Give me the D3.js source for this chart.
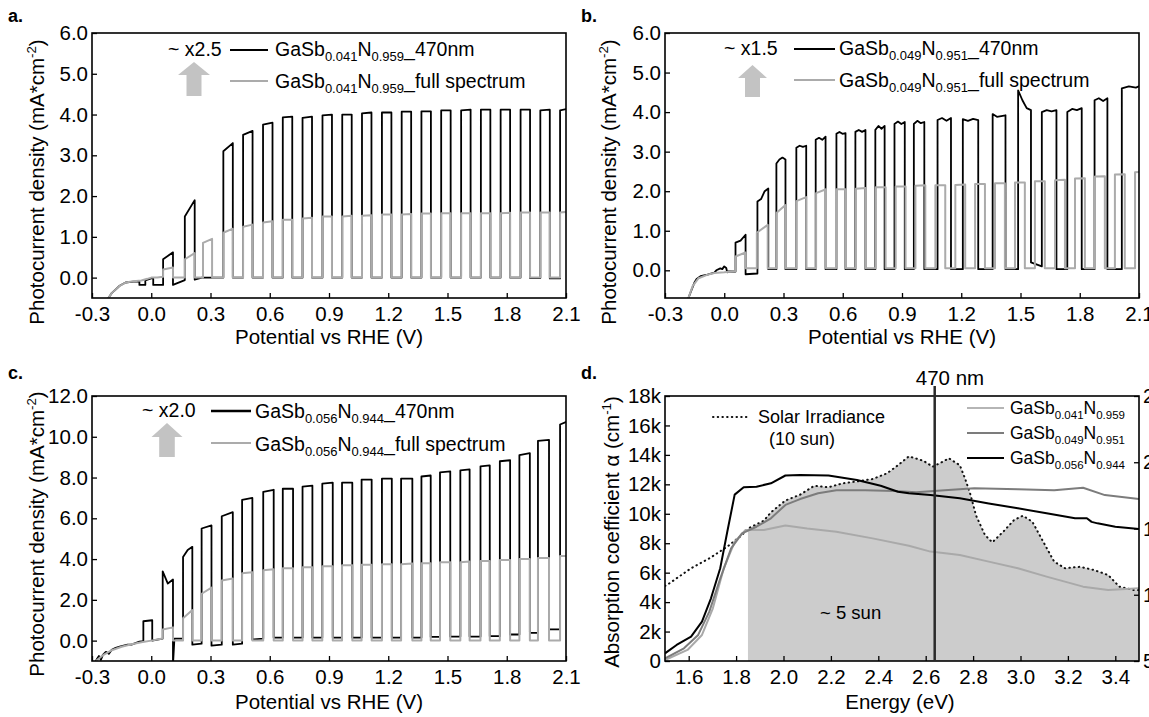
<!DOCTYPE html>
<html><head><meta charset="utf-8">
<script src="https://cdn.jsdelivr.net/npm/d3@7"></script>
<style>body{margin:0;background:#fff}text{font-family:"Liberation Sans",Arial,sans-serif;fill:#000}</style>
</head><body><script>
// ---------- DATA ----------
const potentialTicks = [-0.3,0,0.3,0.6,0.9,1.2,1.5,1.8,2.1];
const jTicksAB = [0,1,2,3,4,5,6];
const jTicksC = [0,2,4,6,8,10,12];
const energyTicks = [1.6,1.8,2.0,2.2,2.4,2.6,2.8,3.0,3.2,3.4];
const alphaTicks = [0,2000,4000,6000,8000,10000,12000,14000,16000,18000];
const irrTicks = [5,10,15,20,25];

// chopped photocurrent: lead-in [V,J] points, then pulses [on, off, [top J...], [dark J...]]
const aBlackLead = [[-0.23,-0.6],[-0.2,-0.38],[-0.16,-0.2],[-0.13,-0.12],[-0.09,-0.1],[-0.06,-0.1],[-0.06,-0.18],[-0.03,-0.18],[-0.03,-0.07],[0.0,-0.02],[0.01,-0.02],[0.01,-0.18],[0.06,-0.18]];
const aBlackPulses = [
 [0.06,0.11,[0.45,0.62],[-0.18,-0.06]],[0.17,0.22,[1.5,1.9],[-0.05,0,0,0,0]],
 [0.365,0.413,[3.1,3.3]],[0.465,0.513,[3.5,3.6]],[0.566,0.614,[3.75,3.8]],[0.666,0.714,[3.93,3.95]],
 [0.766,0.814,[3.92,3.95]],[0.867,0.915,[3.98,4.0]],[0.967,1.015,[4.0,4.0]],[1.067,1.115,[4.03,4.05]],
 [1.168,1.216,[4.05,4.05]],[1.268,1.316,[4.07,4.07]],[1.368,1.416,[4.08,4.08]],[1.468,1.516,[4.1,4.1]],
 [1.569,1.617,[4.1,4.12]],[1.669,1.717,[4.12,4.12]],[1.769,1.817,[4.12,4.12]],[1.870,1.918,[4.12,4.12],[-0.01,-0.01]],
 [1.970,2.018,[4.1,4.12],[-0.02,-0.02]],[2.070,2.118,[4.1,4.15]]];
const aGreyLead = [[-0.23,-0.6],[-0.2,-0.38],[-0.16,-0.2],[-0.13,-0.12],[-0.09,-0.09],[-0.05,-0.07],[-0.02,-0.03],[0.0,0.0],[0.03,0.0],[0.06,0.02]];
const aGreyPulses = [
 [0.06,0.11,[0.2,0.25]],[0.17,0.22,[0.45,0.6]],[0.262,0.308,[0.85,0.95]],
 [0.365,0.413,[1.1,1.2]],[0.465,0.513,[1.25,1.3]],[0.566,0.614,[1.35,1.38]],[0.666,0.714,[1.42,1.42]],
 [0.766,0.814,[1.45,1.47]],[0.867,0.915,[1.5,1.5]],[0.967,1.015,[1.5,1.52]],[1.067,1.115,[1.52,1.53]],
 [1.168,1.216,[1.55,1.55]],[1.268,1.316,[1.55,1.56]],[1.368,1.416,[1.57,1.57]],[1.468,1.516,[1.58,1.58]],
 [1.569,1.617,[1.58,1.58]],[1.669,1.717,[1.58,1.58]],[1.769,1.817,[1.58,1.59]],[1.870,1.918,[1.6,1.6]],
 [1.970,2.018,[1.6,1.6]],[2.070,2.118,[1.6,1.62]]];

const bBlackLead = [[-0.185,-0.75],[-0.17,-0.55],[-0.15,-0.3],[-0.14,-0.22],[-0.12,-0.15],[-0.085,-0.11],[-0.05,-0.06],[-0.04,0.0],[-0.02,0.05],[-0.01,0.03],[0.0,0.1],[0.01,0.06],[0.015,-0.05],[0.02,-0.03],[0.057,-0.03]];
const bBlackPulses = [
 [0.057,0.108,[0.7,0.75,0.9],[-0.1,-0.08]],[0.168,0.223,[1.74,1.8,2.0,2.07]],[0.264,0.310,[2.7,2.8,2.85,2.8]],
 [0.365,0.415,[3.1,3.15,3.12,3.15]],[0.463,0.513,[3.3,3.35,3.3,3.38]],[0.568,0.614,[3.45,3.5,3.45,3.47]],[0.664,0.715,[3.5,3.55,3.5,3.55]],
 [0.765,0.812,[3.55,3.65,3.58,3.65]],[0.862,0.914,[3.7,3.76,3.7,3.75]],[0.960,1.013,[3.7,3.78,3.72,3.75]],[1.080,1.148,[3.8,3.85,3.78,3.85]],
 [1.208,1.286,[3.82,3.78,3.83,3.8]],[1.359,1.424,[3.95,3.88,3.9,3.92]],[1.488,1.553,[4.55,4.3,4.1,4.05],[0.2,0.1]],
 [1.608,1.682,[4.0,4.05,4.02,4.05]],[1.737,1.810,[4.0,4.08,4.05,4.1]],[1.875,1.940,[4.3,4.35,4.28,4.35]],[2.013,2.12,[4.6,4.65,4.62,4.7]]];
const bGreyLead = [[-0.185,-0.75],[-0.16,-0.4],[-0.13,-0.2],[-0.09,-0.12],[-0.05,-0.07],[0.0,-0.05],[0.057,-0.02]];
const bGreyPulses = [
 [0.057,0.108,[0.35,0.45]],[0.165,0.22,[0.95,1.15]],[0.264,0.31,[1.45,1.65]],
 [0.365,0.415,[1.75,1.85]],[0.465,0.515,[1.95,2.05]],[0.566,0.616,[2.05,2.05]],[0.666,0.716,[2.06,2.08]],
 [0.767,0.817,[2.1,2.1]],[0.868,0.918,[2.12,2.12]],[0.968,1.018,[2.14,2.15]],[1.069,1.119,[2.15,2.15]],
 [1.170,1.220,[2.16,2.17]],[1.270,1.320,[2.18,2.18]],[1.371,1.421,[2.2,2.2]],[1.472,1.522,[2.22,2.22]],
 [1.573,1.623,[2.25,2.25]],[1.675,1.725,[2.28,2.29]],[1.776,1.826,[2.32,2.33]],[1.877,1.927,[2.37,2.38]],
 [1.978,2.028,[2.42,2.43]],[2.080,2.13,[2.48,2.5]]];

const cBlackLead = [[-0.285,-1.1],[-0.275,-0.9],[-0.265,-0.75],[-0.255,-0.95],[-0.245,-0.7],[-0.23,-0.55],[-0.215,-0.65],[-0.2,-0.45],[-0.18,-0.35],[-0.16,-0.3],[-0.14,-0.25],[-0.12,-0.2],[-0.1,-0.2],[-0.08,-0.12],[-0.06,-0.05],[-0.04,-0.02]];
const cBlackPulses = [
 [-0.04,0.005,[0.95,1.0],[0.0,0.1]],[0.058,0.11,[3.4,2.8,3.0],[-1.2,0.1,0.1,0.1,0.1,0.1,0.1,0.1]],
 [0.161,0.208,[4.1,4.45,4.6],[-0.2,-0.15]],[0.255,0.305,[5.5,5.65],[-0.25,-0.2]],[0.357,0.413,[6.1,6.3],[-0.2,-0.15]],
 [0.46,0.512,[6.9,7.0],[0.05,0.1]],[0.567,0.62,[7.3,7.4]],[0.666,0.718,[7.45,7.45]],[0.766,0.816,[7.55,7.6]],
 [0.866,0.919,[7.7,7.75]],[0.966,1.018,[7.75,7.75]],[1.065,1.116,[7.9,7.9]],[1.168,1.218,[7.95,7.95]],
 [1.265,1.322,[7.95,7.95]],[1.368,1.415,[8.05,8.1],[0.18,0.18]],[1.462,1.514,[8.25,8.3],[0.2,0.2]],
 [1.565,1.612,[8.35,8.4],[0.2,0.2]],[1.667,1.714,[8.55,8.6],[0.22,0.22]],[1.765,1.817,[8.8,8.85],[0.3,0.3]],
 [1.864,1.917,[9.1,9.2],[0.38,0.38]],[1.958,2.014,[9.8,9.85],[0.55,0.55]],[2.07,2.12,[10.6,10.8]]];
const cGreyLead = [[-0.28,-1.0],[-0.25,-0.75],[-0.2,-0.47],[-0.15,-0.3],[-0.1,-0.18],[-0.05,-0.08],[0.0,0.0],[0.03,0.05],[0.058,0.1]];
const cGreyPulses = [
 [0.058,0.11,[0.55,0.65]],[0.161,0.208,[1.1,1.5]],[0.255,0.305,[2.3,2.6]],[0.357,0.413,[2.95,3.05]],
 [0.46,0.512,[3.3,3.35]],[0.567,0.62,[3.45,3.5]],[0.666,0.718,[3.55,3.55]],[0.766,0.816,[3.6,3.6]],
 [0.866,0.919,[3.65,3.65]],[0.966,1.018,[3.7,3.7]],[1.065,1.116,[3.72,3.72]],[1.168,1.218,[3.75,3.75]],
 [1.265,1.322,[3.75,3.78]],[1.368,1.415,[3.8,3.8]],[1.462,1.514,[3.85,3.85]],[1.565,1.612,[3.85,3.88]],
 [1.667,1.714,[3.9,3.9]],[1.765,1.817,[3.95,3.95]],[1.864,1.917,[4.0,4.0]],[1.958,2.014,[4.05,4.05]],
 [2.07,2.12,[4.15,4.15]]];

// panel d: [energy eV, value]
const solarIrr = [[1.5,5.1],[1.518,5.27],[1.61,6.3],[1.687,6.97],[1.763,7.77],[1.825,8.56],[1.85,9.0],[1.917,9.53],[1.947,10.1],[2.008,10.9],[2.07,11.3],[2.13,11.9],[2.19,11.8],[2.25,12.07],[2.31,12.2],[2.376,12.36],[2.437,12.75],[2.483,13.3],[2.529,13.9],[2.59,13.6],[2.63,13.2],[2.667,13.5],[2.698,13.77],[2.744,13.3],[2.766,12.4],[2.789,11.3],[2.812,9.9],[2.85,8.56],[2.881,8.06],[2.927,8.78],[2.973,9.58],[3.01,9.87],[3.05,9.46],[3.096,8.1],[3.142,6.75],[3.188,6.3],[3.25,6.4],[3.31,6.18],[3.37,5.84],[3.417,5.05],[3.478,4.82],[3.5,4.82]];
const alpha056 = [[1.5,0.52],[1.549,1.09],[1.61,1.65],[1.656,2.67],[1.694,4.26],[1.733,6.3],[1.763,8.8],[1.794,11.3],[1.832,11.8],[1.886,11.84],[1.947,12.07],[2.008,12.6],[2.07,12.63],[2.19,12.6],[2.31,12.3],[2.41,11.9],[2.483,11.5],[2.529,11.39],[2.62,11.27],[2.744,11.05],[2.866,10.7],[2.989,10.37],[3.11,10.03],[3.23,9.69],[3.28,9.7],[3.3,9.45],[3.325,9.35],[3.4,9.12],[3.5,8.96]];
const alpha049 = [[1.5,0.18],[1.58,0.86],[1.64,1.77],[1.687,3.35],[1.733,5.6],[1.779,7.65],[1.825,8.67],[1.886,9.12],[1.947,9.69],[2.008,10.6],[2.07,11.0],[2.146,11.39],[2.223,11.6],[2.345,11.6],[2.468,11.55],[2.56,11.46],[2.68,11.6],[2.805,11.73],[2.989,11.66],[3.142,11.6],[3.264,11.77],[3.356,11.27],[3.5,11.0]];
const alpha041 = [[1.5,0.07],[1.595,0.75],[1.656,1.77],[1.702,3.58],[1.748,6.3],[1.794,8.1],[1.84,8.9],[1.917,8.9],[2.008,9.2],[2.1,9.0],[2.223,8.78],[2.376,8.33],[2.529,7.83],[2.62,7.43],[2.744,7.2],[2.866,6.75],[2.989,6.3],[3.11,5.73],[3.264,5.05],[3.37,4.82],[3.5,4.94]];
const shadeStart = 1.85;   // eV, left edge of "~5 sun" shaded area
const line470 = 2.638;     // eV of 470 nm

// ---------- DRAW ----------
const svg = d3.select("body").append("svg").attr("width",1149).attr("height",717);
const FONT = 20.5;
let clipN = 0;

function makePanel(o){
  const x = d3.scaleLinear().domain(o.xd).range([o.x0,o.x1]);
  const y = d3.scaleLinear().domain(o.yd).range([o.y1,o.y0]);
  const id = "clip"+(clipN++);
  svg.append("clipPath").attr("id",id).append("rect")
     .attr("x",o.x0).attr("y",o.y0).attr("width",o.x1-o.x0).attr("height",o.y1-o.y0);
  const plot = svg.append("g").attr("clip-path",`url(#${id})`);
  const gx = svg.append("g").attr("transform",`translate(0,${o.y1})`)
    .call(d3.axisBottom(x).tickValues(o.xt).tickFormat(d3.format(".1f")).tickSize(-5).tickPadding(8));
  const gy = svg.append("g").attr("transform",`translate(${o.x0},0)`)
    .call(d3.axisLeft(y).tickValues(o.yt).tickFormat(o.yf).tickSize(-5).tickPadding(4));
  [gx,gy].forEach(g=>{
    g.select(".domain").remove();
    g.selectAll(".tick line").attr("stroke","#000").attr("stroke-width",1.3);
    g.selectAll(".tick text").attr("font-size",FONT).attr("font-family","Liberation Sans, Arial, sans-serif").attr("fill","#000");
  });
  gx.selectAll(".tick text").text(d=>d3.format(".1f")(d).replace("−","-"));
  return {x,y,plot,o};
}
function frame(p){
  const o=p.o;
  svg.append("rect").attr("x",o.x0).attr("y",o.y0).attr("width",o.x1-o.x0).attr("height",o.y1-o.y0)
    .attr("fill","none").attr("stroke","#000").attr("stroke-width",1.6);
}
function chopPoints(lead, pulses, xmax, defDark){
  const pts = lead.map(d=>d.slice());
  pulses.forEach((p,i)=>{
    const [on,off,top] = p; const dark = p[3] || defDark;
    pts.push([on, pts[pts.length-1][1]]);
    top.forEach((t,k)=>pts.push([on+(off-on)*k/(top.length-1), t]));
    const next = i<pulses.length-1 ? pulses[i+1][0] : xmax;
    if(dark.length===1){pts.push([off,dark[0]],[next,dark[0]]);}
    else dark.forEach((d,k)=>pts.push([off+(next-off)*k/(dark.length-1), d]));
  });
  return pts;
}
function drawLine(p, pts, color, w, dash){
  const line = d3.line().x(d=>p.x(d[0])).y(d=>p.y(d[1]));
  const path = p.plot.append("path").attr("d",line(pts)).attr("fill","none")
    .attr("stroke",color).attr("stroke-width",w).attr("stroke-linejoin","round");
  if(dash) path.attr("stroke-dasharray",dash).attr("stroke-linecap","round");
  return path;
}
function formula(g, x, y, parts, fs, sfs){
  const t = g.append("text").attr("x",x).attr("y",y).attr("font-size",fs);
  let sub=false;
  parts.forEach(([s,isSub])=>{
    const ts = t.append("tspan").text(s);
    if(isSub && !sub){ts.attr("dy",fs*0.28).attr("font-size",sfs); sub=true;}
    else if(isSub){ts.attr("font-size",sfs);}
    else if(!isSub && sub){ts.attr("dy",-fs*0.28); sub=false;}
  });
  return t;
}
function arrow(cx, tipY, headY, botY, hw, sw){
  svg.append("path").attr("fill","#c3c3c3")
    .attr("d",`M${cx},${tipY}L${cx+hw},${headY}L${cx+sw},${headY}L${cx+sw},${botY}L${cx-sw},${botY}L${cx-sw},${headY}L${cx-hw},${headY}Z`);
}
function yTitle(x, y, parts, fs){
  const g = svg.append("g").attr("transform",`translate(${x},${y}) rotate(-90)`);
  const t = g.append("text").attr("text-anchor","middle").attr("font-size",fs).attr("dy","0.35em");
  parts.forEach(([s,sup])=>{
    const ts=t.append("tspan").text(s);
    if(sup===1) ts.attr("font-size",fs*0.65).attr("dy",-fs*0.38);
    if(sup===2) ts.attr("dy",fs*0.38);
  });
}
function xTitle(x,y,s){ svg.append("text").attr("x",x).attr("y",y).attr("text-anchor","middle").attr("font-size",20.5).text(s); }
function label(x,y,s){ svg.append("text").attr("x",x).attr("y",y).attr("font-size",18).attr("font-weight","bold").text(s); }

const fmt1 = d3.format(".1f");
const jTitle = [["Photocurrent density (mA*cm",0],["-2",1],[")",2]];

// ---- panel a ----
const pa = makePanel({x0:92,x1:566,y0:33,y1:298,xd:[-0.3,2.1],yd:[-0.5,6],xt:potentialTicks,yt:jTicksAB,yf:fmt1});
drawLine(pa, chopPoints(aBlackLead,aBlackPulses,2.12,[0,0]), "#000", 1.8);
drawLine(pa, chopPoints(aGreyLead,aGreyPulses,2.12,[0,0]), "#ababab", 2);
frame(pa);
label(8,22,"a.");
yTitle(37,182,jTitle,20.5);
xTitle(329,344,"Potential vs RHE (V)");
svg.append("text").attr("x",168).attr("y",56).attr("font-size",19.5).text("~ x2.5");
svg.append("line").attr("x1",230).attr("x2",268).attr("y1",50).attr("y2",50).attr("stroke","#000").attr("stroke-width",2);
svg.append("line").attr("x1",230).attr("x2",268).attr("y1",81).attr("y2",81).attr("stroke","#ababab").attr("stroke-width",2);
formula(svg,275,56,[["GaSb",0],["0.041",1],["N",0],["0.959",1],["_470nm",0]],19.5,13);
formula(svg,275,88,[["GaSb",0],["0.041",1],["N",0],["0.959",1],["_full spectrum",0]],19.5,13);
arrow(194,62,75,96,16,7.5);

// ---- panel b ----
const pb = makePanel({x0:665,x1:1139,y0:33,y1:298,xd:[-0.3,2.1],yd:[-0.7,6],xt:potentialTicks,yt:jTicksAB,yf:fmt1});
drawLine(pb, chopPoints(bBlackLead,bBlackPulses,2.12,[0.03,0.03]), "#000", 1.8);
drawLine(pb, chopPoints(bGreyLead,bGreyPulses,2.13,[0.05,0.05]), "#ababab", 2);
frame(pb);
label(581,22,"b.");
yTitle(609,182,jTitle,20.5);
xTitle(902,344,"Potential vs RHE (V)");
svg.append("text").attr("x",724).attr("y",55).attr("font-size",19.5).text("~ x1.5");
svg.append("line").attr("x1",794).attr("x2",835).attr("y1",49).attr("y2",49).attr("stroke","#000").attr("stroke-width",2);
svg.append("line").attr("x1",794).attr("x2",835).attr("y1",80).attr("y2",80).attr("stroke","#ababab").attr("stroke-width",2);
formula(svg,839,55,[["GaSb",0],["0.049",1],["N",0],["0.951",1],["_470nm",0]],19.5,13);
formula(svg,839,87,[["GaSb",0],["0.049",1],["N",0],["0.951",1],["_full spectrum",0]],19.5,13);
arrow(752.5,65,78,97,14.5,7.5);

// ---- panel c ----
const pc = makePanel({x0:92,x1:566,y0:396,y1:661,xd:[-0.3,2.1],yd:[-1,12],xt:potentialTicks,yt:jTicksC,yf:fmt1});
drawLine(pc, chopPoints(cBlackLead,cBlackPulses,2.12,[0.15,0.15]), "#000", 1.8);
drawLine(pc, chopPoints(cGreyLead,cGreyPulses,2.12,[0,0]), "#ababab", 2);
frame(pc);
label(8,379,"c.");
yTitle(37,534,jTitle,20.5);
xTitle(329,709,"Potential vs RHE (V)");
svg.append("text").attr("x",142).attr("y",417).attr("font-size",19.5).text("~ x2.0");
svg.append("line").attr("x1",211).attr("x2",251).attr("y1",411).attr("y2",411).attr("stroke","#000").attr("stroke-width",2.4);
svg.append("line").attr("x1",211).attr("x2",251).attr("y1",443).attr("y2",443).attr("stroke","#ababab").attr("stroke-width",2);
formula(svg,255,418,[["GaSb",0],["0.056",1],["N",0],["0.944",1],["_470nm",0]],19.5,13);
formula(svg,255,451,[["GaSb",0],["0.056",1],["N",0],["0.944",1],["_full spectrum",0]],19.5,13);
arrow(167,423,437,457,15.5,7.8);

// ---- panel d ----
const pd = makePanel({x0:665,x1:1139,y0:396,y1:661,xd:[1.5,3.5],yd:[0,18000],xt:energyTicks,yt:alphaTicks,yf:d=>d===0?"0":(d/1000)+"k"});
const k = d=>[d[0],d[1]*1000];
const shade = solarIrr.filter(d=>d[0]>=shadeStart).map(k);
pd.plot.append("path").attr("fill","#cccccc")
  .attr("d",d3.area().x(d=>pd.x(d[0])).y0(pd.y(0)).y1(d=>pd.y(d[1]))(shade));
drawLine(pd, solarIrr.map(k), "#111", 2, "0.5,4.2");
drawLine(pd, alpha041.map(k), "#a9a9a9", 2);
drawLine(pd, alpha049.map(k), "#7c7c7c", 2);
drawLine(pd, alpha056.map(k), "#000", 2);
// right (irradiance) axis, its labels cut off by the picture edge as in the reference
const yr = d3.scaleLinear().domain([5,25]).range([661,396]);
const gr = svg.append("g").attr("transform","translate(1139,0)")
  .call(d3.axisRight(yr).tickValues(irrTicks).tickSize(-5).tickPadding(4));
gr.select(".domain").remove();
gr.selectAll(".tick line").attr("stroke","#000").attr("stroke-width",1.3);
gr.selectAll(".tick text").attr("font-size",FONT).attr("fill","#000");
frame(pd);
svg.append("line").attr("x1",pd.x(line470)).attr("x2",pd.x(line470)).attr("y1",386).attr("y2",661)
  .attr("stroke","#2a2a2a").attr("stroke-width",2.5);
svg.append("text").attr("x",950).attr("y",385).attr("text-anchor","middle").attr("font-size",20.5).text("470 nm");
label(581,379,"d.");
yTitle(612,532,[["Absorption coefficient α (cm",0],["-1",1],[")",2]],20.5);
xTitle(900,709,"Energy (eV)");
svg.append("line").attr("x1",713).attr("x2",749).attr("y1",417).attr("y2",417).attr("stroke","#111").attr("stroke-width",2).attr("stroke-dasharray","0.5,4.2").attr("stroke-linecap","round");
svg.append("text").attr("x",758).attr("y",423).attr("font-size",18).text("Solar Irradiance");
svg.append("text").attr("x",769).attr("y",445).attr("font-size",18).text("(10 sun)");
svg.append("text").attr("x",820).attr("y",619).attr("font-size",18.5).text("~ 5 sun");
const legD = [["0.041","0.959","#b5b5b5",408],["0.049","0.951","#7c7c7c",433],["0.056","0.944","#000",458]];
legD.forEach(([s1,s2,c,yy])=>{
  svg.append("line").attr("x1",967).attr("x2",1004).attr("y1",yy).attr("y2",yy).attr("stroke",c).attr("stroke-width",2);
  formula(svg,1010,yy+6,[["GaSb",0],[s1,1],["N",0],[s2,1]],17.5,11.5);
});
</script></body></html>
